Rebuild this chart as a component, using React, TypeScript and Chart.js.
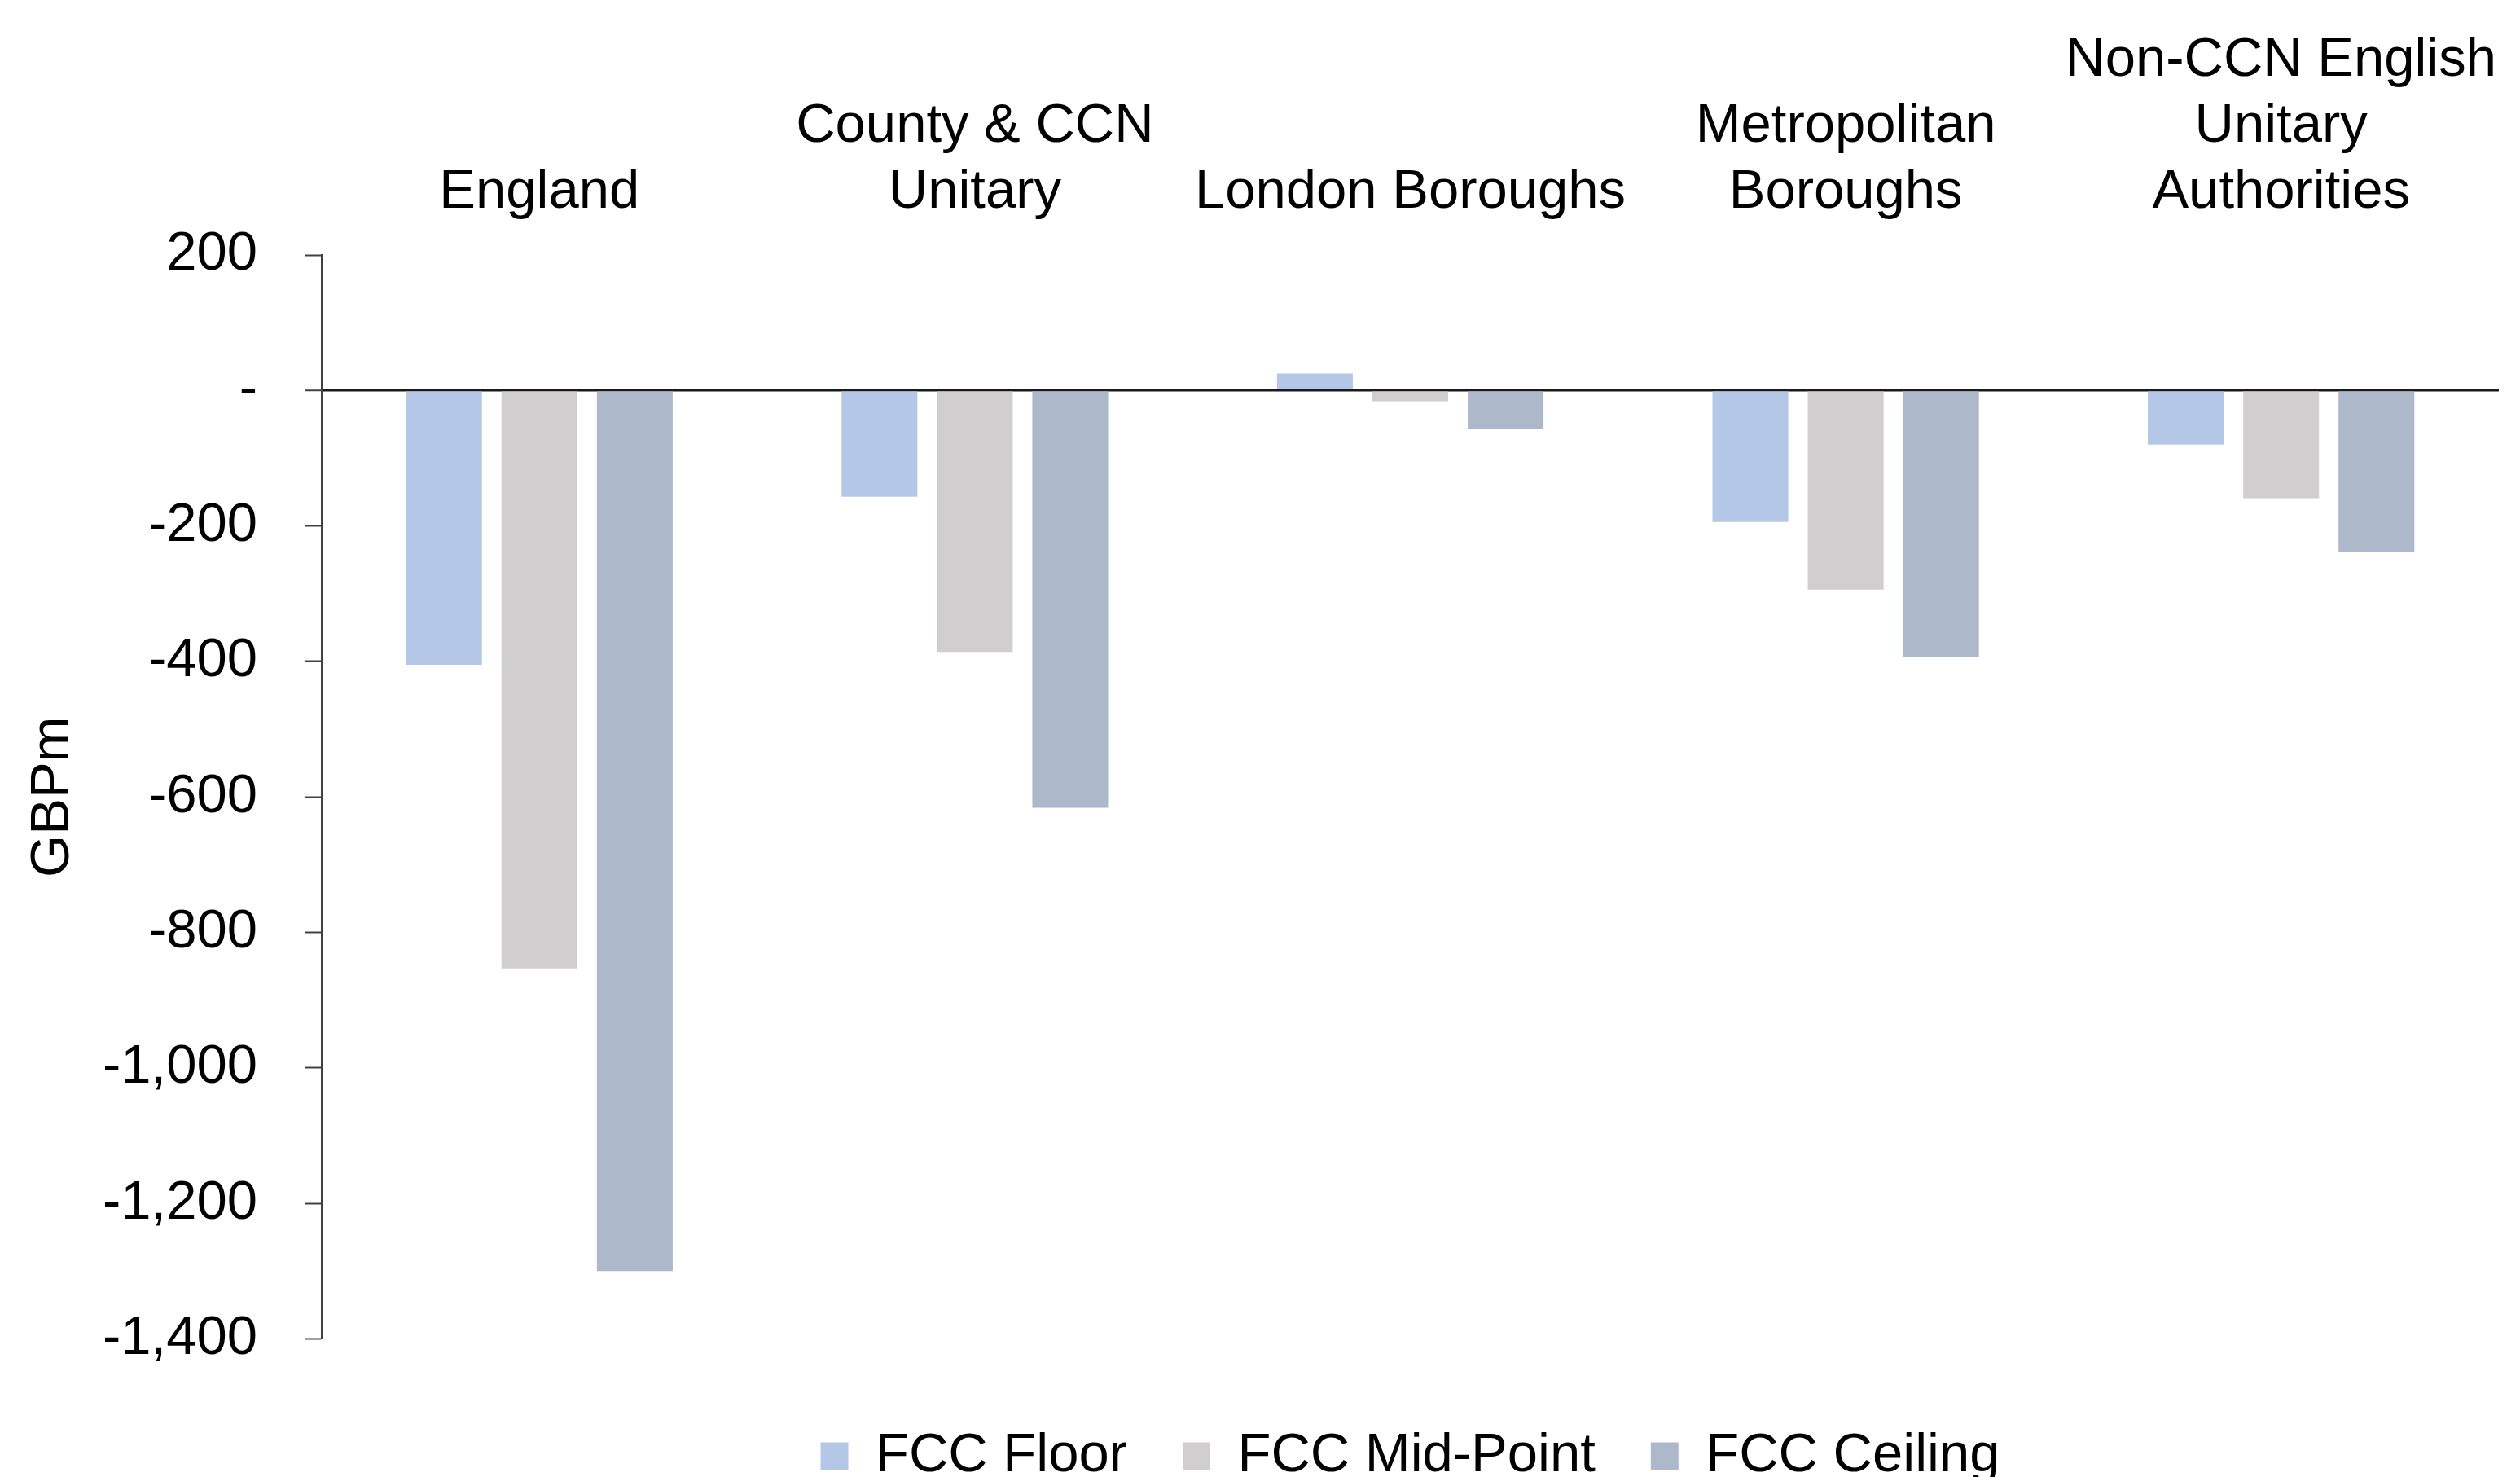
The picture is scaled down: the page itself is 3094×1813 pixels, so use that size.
import { useEffect, useRef } from 'react';
import { Chart, registerables } from 'chart.js';

Chart.register(...registerables);

const categories: string[][] = [
  ['England'],
  ['County & CCN', 'Unitary'],
  ['London Boroughs'],
  ['Metropolitan', 'Boroughs'],
  ['Non-CCN English', 'Unitary', 'Authorities'],
];
const seriesNames = ['FCC Floor', 'FCC Mid-Point', 'FCC Ceiling'];
const fccFloor = [-405, -157, 25, -194, -80];
const fccMidPoint = [-853, -386, -16, -294, -159];
const fccCeiling = [-1300, -616, -57, -393, -238];
const yMin = -1400;
const yMax = 200;
const yStep = 200;
const yTitle = 'GBPm';

const FONT = '"Liberation Sans", Arial, Helvetica, sans-serif';

export default function App() {
  const ref = useRef<HTMLCanvasElement | null>(null);

  useEffect(() => {
    if (!ref.current) return;
    const chart = new Chart(ref.current, {
      type: 'bar',
      data: {
        labels: categories,
        datasets: [
          { label: seriesNames[0], data: fccFloor, backgroundColor: '#B4C7E7' },
          { label: seriesNames[1], data: fccMidPoint, backgroundColor: '#D0CECE' },
          { label: seriesNames[2], data: fccCeiling, backgroundColor: '#ADB9CA' },
        ],
      },
      options: {
        responsive: false,
        animation: false,
        devicePixelRatio: 1,
        layout: { padding: { left: 0, right: 26, top: 0, bottom: 0 } },
        datasets: {
          bar: { categoryPercentage: 0.657, barPercentage: 0.795 },
        },
        plugins: {
          tooltip: { enabled: false },
          legend: {
            position: 'bottom',
            fullSize: false,
            title: {
              display: true,
              text: '',
              padding: 0,
              font: { family: FONT, size: 20, lineHeight: 2.125 },
            },
            labels: {
              boxWidth: 34,
              boxHeight: 34,
              padding: 68,
              color: '#000',
              font: { family: FONT, size: 67 },
            },
          },
        },
        scales: {
          x: {
            position: 'top',
            grid: { display: false, drawTicks: false },
            border: { display: false },
            ticks: {
              color: '#000',
              padding: 36,
              autoSkip: false,
              maxRotation: 0,
              minRotation: 0,
              font: { family: FONT, size: 67, lineHeight: 1.21 },
            },
            afterFit: (s: any) => {
              s.height = 313;
              s.paddingLeft = 0;
              s.paddingRight = 0;
            },
          },
          y: {
            min: yMin,
            max: yMax,
            title: {
              display: true,
              text: yTitle,
              color: '#000',
              padding: { top: 25, bottom: 0 },
              font: { family: FONT, size: 67 },
            },
            border: { display: true, color: '#404040', width: 2 },
            grid: {
              drawTicks: true,
              tickLength: 21,
              tickColor: '#404040',
              tickWidth: 2,
              color: (ctx: any) => (ctx.tick && ctx.tick.value === 0 ? '#1a1a1a' : 'rgba(0,0,0,0)'),
              lineWidth: (ctx: any) => (ctx.tick && ctx.tick.value === 0 ? 2.5 : 1),
            },
            ticks: {
              stepSize: yStep,
              color: '#000',
              padding: 58,
              font: { family: FONT, size: 67 },
              callback: (v: any) => (Number(v) === 0 ? '-' : Number(v).toLocaleString('en-US')),
            },
            afterFit: (s: any) => {
              s.width = 395;
            },
          },
        },
      },
    });
    return () => chart.destroy();
  }, []);

  return (
    <div
      style={{
        position: 'fixed',
        left: 0,
        top: 0,
        width: 3094,
        height: 1813,
        overflow: 'hidden',
        background: '#fff',
      }}
    >
      <canvas ref={ref} width={3094} height={1831} style={{ display: 'block' }} />
    </div>
  );
}
